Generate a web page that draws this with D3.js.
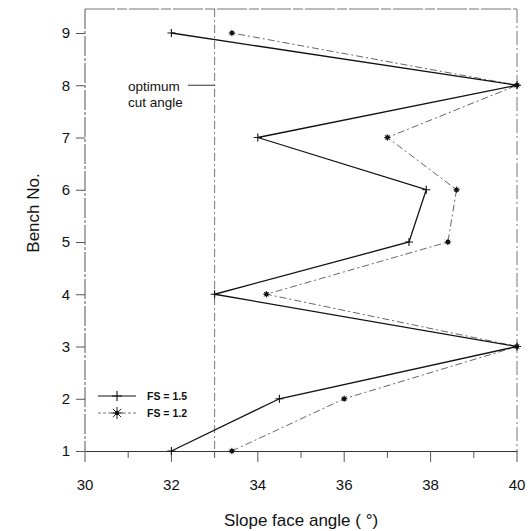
<!DOCTYPE html>
<html><head><meta charset="utf-8">
<script src="https://cdn.jsdelivr.net/npm/d3@7"></script>
<style>body{margin:0;background:#fff}svg{display:block}text{font-family:"Liberation Sans",Arial,sans-serif;fill:#111}</style>
</head><body><div id="chart"></div>
<script>
const benches = [1,2,3,4,5,6,7,8,9];
const fs15 = [32, 34.5, 40, 33, 37.5, 37.9, 34, 40, 32];
const fs12 = [33.4, 36, 40, 34.2, 38.4, 38.6, 37, 40, 33.4];
const xTicks = [30,31,32,33,34,35,36,37,38,39,40];
const xLabels = [30,32,34,36,38,40];
const yTicks = [1,2,3,4,5,6,7,8,9];
const optimum = 33;
const seriesNames = ["FS = 1.5", "FS = 1.2"];

const W=529,H=531;
const svg=d3.select("#chart").append("svg").attr("width",W).attr("height",H);
const x=d3.scaleLinear().domain([30,40]).range([85,517]);
const y=d3.scaleLinear().domain([1,9]).range([451,33]);
const topY=9;

// frame
svg.append("line").attr("x1",x(30)).attr("x2",x(40)).attr("y1",topY).attr("y2",topY).attr("stroke","#777").attr("stroke-width",1.2).attr("stroke-dasharray","30,2,10,2");
svg.append("line").attr("x1",x(40)).attr("x2",x(40)).attr("y1",topY).attr("y2",y(1)).attr("stroke","#777").attr("stroke-width",1).attr("stroke-dasharray","14,3,2,3");
// optimum line
svg.append("line").attr("x1",x(optimum)).attr("x2",x(optimum)).attr("y1",topY).attr("y2",y(1)).attr("stroke","#777").attr("stroke-width",1).attr("stroke-dasharray","8,3,2,3");

// axes
const xAxis=d3.axisBottom(x).tickValues(xTicks).tickSize(0).tickFormat("");
const gx=svg.append("g").attr("transform",`translate(0,${y(1)})`).call(xAxis);
gx.select(".domain").attr("stroke","#333").attr("stroke-width",1.2);
gx.selectAll(".tk").data(xTicks).enter().append("line").attr("x1",d=>x(d)).attr("x2",d=>x(d)).attr("y1",0).attr("y2",d=>d%2===0?11:7).attr("stroke","#555").attr("stroke-width",1);
gx.selectAll(".lb").data(xLabels).enter().append("text").attr("x",d=>x(d)).attr("y",39).attr("text-anchor","middle").attr("font-size",15).text(d=>d);

const yAxis=d3.axisLeft(y).tickValues(yTicks).tickSize(9).tickPadding(6).tickFormat(d3.format("d"));
const gy=svg.append("g").attr("transform",`translate(${x(30)},0)`).call(yAxis);
gy.select(".domain").attr("d",`M0,${topY}V${y(1)}`).attr("stroke","#555").attr("stroke-width",1).attr("stroke-dasharray","20,2,3,2");
gy.selectAll(".tick line").attr("stroke","#555");
gy.selectAll(".tick text").attr("font-size",15).attr("font-family","Liberation Sans, Arial, sans-serif").attr("fill","#111");

// lines
const lineGen=d3.line().x(d=>x(d[1])).y(d=>y(d[0]));
const d15=benches.map((b,i)=>[b,fs15[i]]);
const d12=benches.map((b,i)=>[b,fs12[i]]);
svg.append("path").attr("d",lineGen(d12)).attr("fill","none").attr("stroke","#666").attr("stroke-width",1).attr("stroke-dasharray","7,3,2,3");
svg.append("path").attr("d",lineGen(d15)).attr("fill","none").attr("stroke","#111").attr("stroke-width",1.3);

function plus(g,cx,cy,s){g.append("path").attr("d",`M${cx-s},${cy}H${cx+s}M${cx},${cy-s}V${cy+s}`).attr("stroke","#111").attr("stroke-width",1.1);}
function star(g,cx,cy,s){
  g.append("path").attr("d",`M${cx-s},${cy}H${cx+s}M${cx},${cy-s}V${cy+s}M${cx-s*0.7},${cy-s*0.7}L${cx+s*0.7},${cy+s*0.7}M${cx-s*0.7},${cy+s*0.7}L${cx+s*0.7},${cy-s*0.7}`).attr("stroke","#222").attr("stroke-width",1);
  g.append("circle").attr("cx",cx).attr("cy",cy).attr("r",2.2).attr("fill","#111");
}
const gm=svg.append("g");
d15.forEach(d=>plus(gm,x(d[1]),y(d[0]),4));
d12.forEach(d=>star(gm,x(d[1]),y(d[0]),3.2));

// annotation
svg.append("text").attr("x",128).attr("y",91).attr("font-size",13.5).text("optimum");
svg.append("text").attr("x",128).attr("y",107).attr("font-size",13.5).text("cut angle");
svg.append("line").attr("x1",188).attr("x2",x(optimum)).attr("y1",y(8)).attr("y2",y(8)).attr("stroke","#333").attr("stroke-width",1);

// legend
const lg=svg.append("g");
const ly=[396,413];
lg.append("line").attr("x1",98).attr("x2",136).attr("y1",ly[0]).attr("y2",ly[0]).attr("stroke","#111").attr("stroke-width",1.2);
plus(lg,117,ly[0],5);
lg.append("line").attr("x1",98).attr("x2",136).attr("y1",ly[1]).attr("y2",ly[1]).attr("stroke","#777").attr("stroke-width",1).attr("stroke-dasharray","3,2");
star(lg,117,ly[1],6);
lg.selectAll(".lt").data(seriesNames).enter().append("text").attr("x",147).attr("y",(d,i)=>ly[i]+4).attr("font-size",10.5).attr("font-weight","bold").text(d=>d);

// titles
svg.append("text").attr("x",301).attr("y",526).attr("text-anchor","middle").attr("font-size",17).text("Slope face angle ( °)");
svg.append("text").attr("transform","translate(39,213) rotate(-90)").attr("text-anchor","middle").attr("font-size",17).text("Bench No.");
</script></body></html>
